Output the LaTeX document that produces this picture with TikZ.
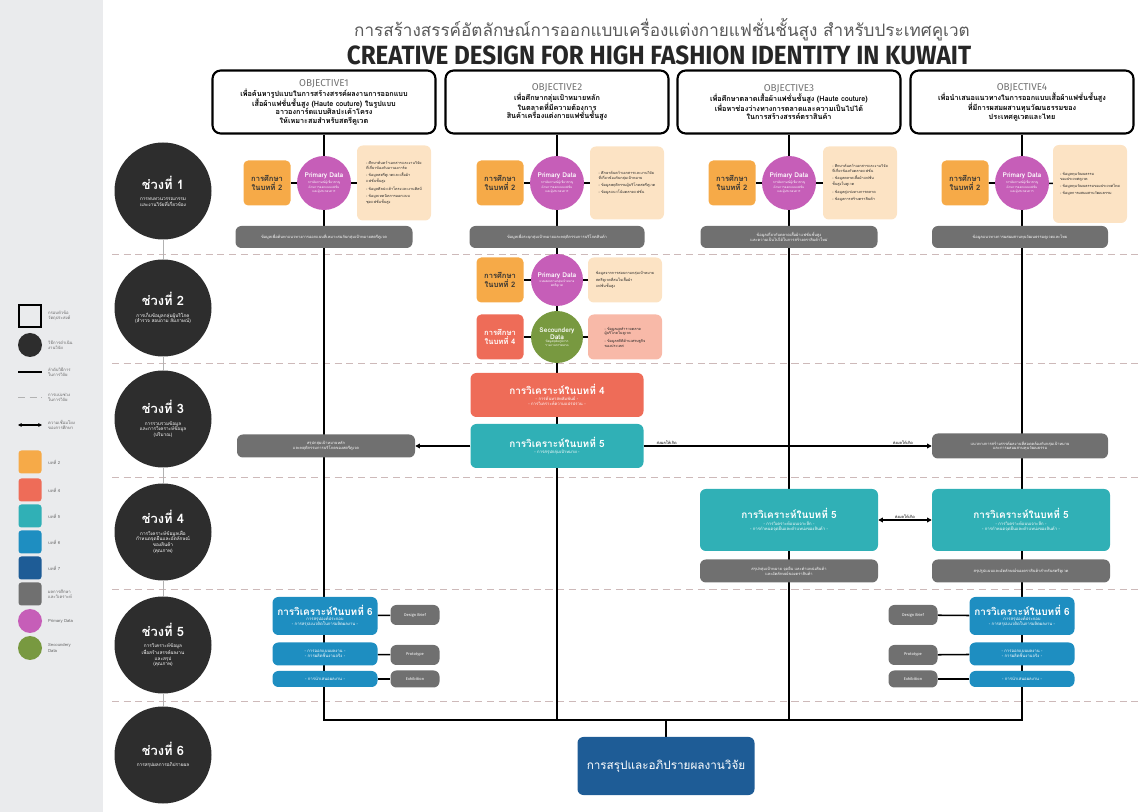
\documentclass[tikz,border=0pt]{standalone}
\usepackage{fontspec}
\setmainfont[Script=Thai]{Loma}
\newfontfamily\latinfont{Fira Sans}
\newfontfamily\headfont[FakeStretch=0.92]{Fira Sans}
\usetikzlibrary{positioning,arrows.meta,backgrounds}

\definecolor{panelgray}{RGB}{234,235,237}
\definecolor{phasegray}{RGB}{45,45,45}
\definecolor{ch2}{RGB}{246,170,72}
\definecolor{ch4}{RGB}{238,108,88}
\definecolor{ch5}{RGB}{48,176,182}
\definecolor{ch6}{RGB}{30,142,193}
\definecolor{ch7}{RGB}{30,92,150}
\definecolor{resgray}{RGB}{112,112,112}
\definecolor{primpink}{RGB}{198,94,184}
\definecolor{secgreen}{RGB}{120,153,64}
\definecolor{beige}{RGB}{252,227,196}
\definecolor{salmon}{RGB}{248,185,168}
\definecolor{sepline}{RGB}{205,185,185}
\newcommand*{\phtitle}[1]{{\fontsize{11}{12}\selectfont\bfseries #1}}
\newcommand*{\bxtitle}[1]{{\fontsize{8.5}{10}\selectfont\bfseries #1}}
\newcommand*{\dottitle}[1]{{\fontsize{5.6}{6.4}\selectfont\bfseries #1}}
\newcommand*{\objlabel}[1]{{\latinfont\mdseries\fontsize{8.5}{10}\selectfont\color{black!55}#1}}

\begin{document}
\begin{tikzpicture}[x=0.3mm,y=-0.3mm,
  wh/.style 2 args={minimum width=#1*0.3mm,minimum height=#2*0.3mm},
  objbox/.style={draw,line width=1.8pt,rounded corners=7pt,fill=white,wh={223}{63},
    align=center,inner sep=1pt,font=\fontsize{6.2}{7}\selectfont\bfseries},
  phase/.style={circle,fill=phasegray,minimum size=97*0.3mm,inner sep=0pt,text=white,
    align=center,font=\fontsize{4}{4.8}\selectfont},
  chapbox/.style={rounded corners=5pt,fill=#1,align=center,inner sep=1pt,text=white,
    font=\fontsize{3.6}{4.4}\selectfont},
  studybox/.style={rounded corners=4pt,fill=#1,wh={47}{45},align=center,inner sep=0pt,
    font=\fontsize{6.5}{7.6}\selectfont\bfseries,text=black!80},
  datadot/.style={circle,fill=#1,minimum size=54*0.3mm,inner sep=0pt,text=white,
    align=center,font=\fontsize{2.6}{3.1}\selectfont},
  notebox/.style={rounded corners=5pt,fill=#1,align=left,inner sep=2pt,text=black!85,
    font=\fontsize{3.2}{4.2}\selectfont},
  resbox/.style={rounded corners=5pt,fill=resgray,align=center,inner sep=1pt,text=white,
    font=\fontsize{3.4}{4.2}\selectfont},
  flow/.style={line width=2.2pt},
  link/.style={line width=1.3pt},
  sep/.style={draw=sepline,dash pattern=on 6pt off 4pt,line width=0.6pt},
  lgtext/.style={anchor=west,align=left,text=black!60,font=\fontsize{3.6}{4.3}\selectfont},
  lgchip/.style={rounded corners=2.5pt,fill=#1,wh={23}{23}},
  arr/.style={-{Triangle[length=4pt,width=4pt]},line width=0.9pt},
  note/.style={font=\fontsize{3.4}{4}\selectfont,inner sep=1pt}
]
\useasboundingbox (0,0) rectangle (1148,812);
% Legend strip on the left
\fill[panelgray] (0,0) rectangle (103,812);
\node[draw,line width=1.3pt,wh={22}{22}] (lgobj) at (30,316) {};
\node[lgtext] (ltobj) at (44,316) {กรอบหัวข้อ\\วัตถุประสงค์};
\node[circle,fill=phasegray,minimum size=24*0.3mm] (lgph) at (30,345) {};
\node[lgtext] (ltph) at (44,345) {วิธีการดำเนิน\\งานวิจัย};
\coordinate (lgl1) at (18,372); \coordinate (lgl2) at (42,372);
\draw[flow] (lgl1) -- (lgl2);
\node[lgtext] (ltl) at (44,372) {ลำดับวิธีการ\\ในการวิจัย};
\coordinate (lgd1) at (18,397); \coordinate (lgd2) at (42,397);
\draw[sep,draw=black!30] (lgd1) -- (lgd2);
\node[lgtext] (ltd) at (44,397) {การแบ่งช่วง\\ในการวิจัย};
\coordinate (lga1) at (18,425); \coordinate (lga2) at (42,425);
\draw[arr,{Triangle[length=3pt,width=3pt]}-{Triangle[length=3pt,width=3pt]}] (lga1) -- (lga2);
\node[lgtext] (lta) at (44,425) {ความเชื่อมโยง\\ของการศึกษา};
\foreach \col/\y/\txt [count=\k] in {ch2/462/บทที่ 2,ch4/490/บทที่ 4,ch5/516/บทที่ 5,
    ch6/542/บทที่ 6,ch7/568/บทที่ 7,resgray/594/{ผลการศึกษา\\และวิเคราะห์}}{
  \node[lgchip=\col] (lc\k) at (30,\y) {};
  \node[lgtext] (lt\k) at (44,\y) {\txt};
}
\node[circle,fill=primpink,minimum size=24*0.3mm] (lgpd) at (30,621) {};
\node[lgtext] (ltpd) at (44,621) {Primary Data};
\node[circle,fill=secgreen,minimum size=24*0.3mm] (lgsd) at (30,648) {};
\node[lgtext] (ltsd) at (44,648) {Secoundery\\Data};

% Heading
\node[text=black!65,font=\fontsize{14.6}{17}\selectfont] (thtitle) at (662,30)
  {การสร้างสรรค์อัตลักษณ์การออกแบบเครื่องแต่งกายแฟชั่นชั้นสูง สำหรับประเทศคูเวต};
\node[text=black!85,font=\headfont\bfseries\fontsize{22.5}{24}\selectfont] (entitle) at (659,55)
  {CREATIVE DESIGN FOR HIGH FASHION IDENTITY IN KUWAIT};

% Objectives
\node[objbox] (ob1) at (324,102) {\objlabel{OBJECTIVE1}\\
  เพื่อค้นหารูปแบบในการสร้างสรรค์ผลงานการออกแบบ\\เสื้อผ้าแฟชั่นชั้นสูง (Haute couture) ในรูปแบบ\\
  อาวองการ์ดแบบศิลปะเค้าโครง\\ให้เหมาะสมสำหรับสตรีคูเวต};
\node[objbox] (ob2) at (557,102) {\objlabel{OBJECTIVE2}\\
  เพื่อศึกษากลุ่มเป้าหมายหลัก\\ในตลาดที่มีความต้องการ\\สินค้าเครื่องแต่งกายแฟชั่นชั้นสูง};
\node[objbox] (ob3) at (789,102) {\objlabel{OBJECTIVE3}\\
  เพื่อศึกษาตลาดเสื้อผ้าแฟชั่นชั้นสูง (Haute couture)\\เพื่อหาช่องว่างทางการตลาดและความเป็นไปได้\\
  ในการสร้างสรรค์ตราสินค้า};
\node[objbox] (ob4) at (1022,102) {\objlabel{OBJECTIVE4}\\
  เพื่อนำเสนอแนวทางในการออกแบบเสื้อผ้าแฟชั่นชั้นสูง\\ที่มีการผสมผสานทุนวัฒนธรรมของ\\ประเทศคูเวตและไทย};

% Phase circles
\node[phase] (ph1) at (163,191) {\phtitle{ช่วงที่ 1}\\[5pt]การทบทวนวรรณกรรม\\และงานวิจัยที่เกี่ยวข้อง};
\node[phase] (ph2) at (163,308) {\phtitle{ช่วงที่ 2}\\[5pt]การเก็บข้อมูลกลุ่มผู้บริโภค\\(สำรวจ สอบถาม สัมภาษณ์)};
\node[phase] (ph3) at (163,419) {\phtitle{ช่วงที่ 3}\\[5pt]การรวบรวมข้อมูล\\และการวิเคราะห์ข้อมูล\\(ปริมาณ)};
\node[phase] (ph4) at (163,532) {\phtitle{ช่วงที่ 4}\\[5pt]การวิเคราะห์ข้อมูลเพื่อ\\กำหนดจุดยืนและอัตลักษณ์\\ของสินค้า\\(คุณภาพ)};
\node[phase] (ph5) at (163,645) {\phtitle{ช่วงที่ 5}\\[5pt]การวิเคราะห์ข้อมูล\\เพื่อสร้างสรรค์ผลงาน\\และสรุป\\(คุณภาพ)};
\node[phase] (ph6) at (163,755) {\phtitle{ช่วงที่ 6}\\[5pt]การสรุปผลการอภิปรายผล};

% Phase 1: literature study in every column
\node[notebox=beige,wh={74}{75}] (nt1) at (394,183) {- ศึกษาค้นคว้าเอกสารและงานวิจัย\\ที่เกี่ยวข้องกับอาวองการ์ด\\[2pt]
  - ข้อมูลสตรีคูเวตและเสื้อผ้า\\แฟชั่นชั้นสูง\\[2pt]- ข้อมูลศิลปะเค้าโครงและงานศิลป์\\[2pt]
  - ข้อมูลเทคนิคการออกแบบ\\ชุดแฟชั่นชั้นสูง};
\node[notebox=beige,wh={74}{73}] (nt2) at (627,183) {- ศึกษาค้นคว้าเอกสารและงานวิจัย\\ที่เกี่ยวข้องกับกลุ่มเป้าหมาย\\[2pt]
  - ข้อมูลพฤติกรรมผู้บริโภคสตรีคูเวต\\[2pt]- ข้อมูลแนวโน้มตลาดแฟชั่น};
\node[notebox=beige,wh={74}{73}] (nt3) at (860,183) {- ศึกษาค้นคว้าเอกสารและงานวิจัย\\ที่เกี่ยวข้องกับตลาดแฟชั่น\\[2pt]
  - ข้อมูลตลาดเสื้อผ้าแฟชั่น\\ชั้นสูงในคูเวต\\[2pt]- ข้อมูลคู่แข่งทางการตลาด\\[2pt]- ข้อมูลการสร้างตราสินค้า};
\node[notebox=beige,wh={74}{78}] (nt4) at (1090,184) {- ข้อมูลทุนวัฒนธรรม\\ของประเทศคูเวต\\[2pt]
  - ข้อมูลทุนวัฒนธรรมของประเทศไทย\\[2pt]- ข้อมูลการผสมผสานวัฒนธรรม};
\foreach \n/\c in {1/324,2/557,3/789,4/1022}{
  \node[studybox=ch2] (st\n) at (\c-57,183) {การศึกษา\\ในบทที่ 2};
  \node[datadot=primpink] (pd\n) at (\c,183) {\dottitle{Primary Data}\\
    การสัมภาษณ์ผู้เชี่ยวชาญ\\ด้านการออกแบบแฟชั่น\\และผู้ประกอบการ};
}
\node[resbox,wh={177}{22}] (rs1) at (324,237) {ข้อมูลเพื่อค้นหาแนวทางการออกแบบที่เหมาะสมกับกลุ่มเป้าหมายสตรีคูเวต};
\node[resbox,wh={175}{22}] (rs2) at (557,237) {ข้อมูลเพื่อระบุกลุ่มเป้าหมายและพฤติกรรมการบริโภคสินค้า};
\node[resbox,wh={177}{22}] (rs3) at (789,237) {ข้อมูลเกี่ยวกับตลาดเสื้อผ้าแฟชั่นชั้นสูง\\และความเป็นไปได้ในการสร้างตราสินค้าใหม่};
\node[resbox,wh={176}{22}] (rs4) at (1020,237) {ข้อมูลแนวทางการผสมผสานทุนวัฒนธรรมคูเวตและไทย};

% Phase 2: survey of consumers (objective 2 only)
\node[studybox=ch2,wh={47}{45}] (st5) at (500,280) {การศึกษา\\ในบทที่ 2};
\node[datadot=primpink,minimum size=52*0.3mm] (pd5) at (557,280) {\dottitle{Primary Data}\\
  แบบสอบถามกลุ่มเป้าหมาย\\สตรีคูเวต};
\node[notebox=beige,wh={74}{45}] (nt5) at (625,280) {ข้อมูลจากการสอบถามกลุ่มเป้าหมาย\\สตรีคูเวตที่สนใจเสื้อผ้า\\แฟชั่นชั้นสูง};
\node[studybox=ch4,wh={47}{45},text=white] (st6) at (500,337) {การศึกษา\\ในบทที่ 4};
\node[datadot=secgreen,minimum size=52*0.3mm] (sd6) at (557,337) {\dottitle{Secoundery}\\\dottitle{Data}\\
  ข้อมูลทุติยภูมิจาก\\รายงานการตลาด};
\node[notebox=salmon,wh={74}{45}] (nt6) at (625,337) {- ข้อมูลผลสำรวจตลาด\\ผู้บริโภคในคูเวต\\[2pt]- ข้อมูลสถิติด้านเศรษฐกิจ\\ของประเทศ};

% Phase 3: quantitative analysis
\node[chapbox=ch4,wh={173}{44}] (an4) at (557,395) {\bxtitle{การวิเคราะห์ในบทที่ 4}\\- การค้นหาสหสัมพันธ์ -\\- การวิเคราะห์ความแปรปรวน -};
\node[chapbox=ch5,wh={173}{44}] (an5) at (557,446) {\bxtitle{การวิเคราะห์ในบทที่ 5}\\- การสรุปกลุ่มเป้าหมาย -};
\node[resbox,wh={178}{23}] (rs5) at (326,446) {สรุปกลุ่มเป้าหมายหลัก\\และพฤติกรรมการบริโภคของสตรีคูเวต};
\node[resbox,wh={176}{25}] (rs6) at (1020,446) {แนวทางการสร้างสรรค์ผลงานที่สอดคล้องกับกลุ่มเป้าหมาย\\และการผสมผสานทุนวัฒนธรรม};

% Phase 4: qualitative analysis
\node[chapbox=ch5,wh={178}{62}] (an6) at (789,520) {\bxtitle{การวิเคราะห์ในบทที่ 5}\\[2pt]- การวิเคราะห์แบบเจาะลึก -\\- การกำหนดจุดยืนและตำแหน่งของสินค้า -};
\node[chapbox=ch5,wh={178}{62}] (an7) at (1021,520) {\bxtitle{การวิเคราะห์ในบทที่ 5}\\[2pt]- การวิเคราะห์แบบเจาะลึก -\\- การกำหนดจุดยืนและตำแหน่งของสินค้า -};
\node[resbox,wh={178}{23}] (rs7) at (789,571) {สรุปกลุ่มเป้าหมาย จุดยืน และตำแหน่งสินค้า\\และอัตลักษณ์ของตราสินค้า};
\node[resbox,wh={178}{23}] (rs8) at (1021,571) {สรุปรูปแบบและอัตลักษณ์ของตราสินค้าสำหรับสตรีคูเวต};

% Phase 5: design work, both sides
\foreach \s/\c/\g in {l/325/415,r/1022/913}{
  \node[chapbox=ch6,wh={105}{38}] (dz1\s) at (\c,616) {\bxtitle{การวิเคราะห์ในบทที่ 6}\\การสรุปองค์ประกอบ\\- การสรุปแนวคิดในการผลิตผลงาน -};
  \node[chapbox=ch6,wh={105}{23}] (dz2\s) at (\c,654) {- การออกแบบผลงาน -\\- การผลิตชิ้นงานจริง -};
  \node[chapbox=ch6,wh={105}{16}] (dz3\s) at (\c,679) {- การนำเสนอผลงาน -};
  \node[resbox,wh={49}{20},font=\latinfont\fontsize{3.4}{4}\selectfont] (db\s) at (\g,615) {Design Brief};
  \node[resbox,wh={49}{20},font=\latinfont\fontsize{3.4}{4}\selectfont] (pt\s) at (\g,655) {Prototype};
  \node[resbox,wh={49}{17},font=\latinfont\fontsize{3.4}{4}\selectfont] (ex\s) at (\g,679) {Exhibition};
}

% Phase 6: conclusion
\node[chapbox=ch7,wh={177}{58},font=\fontsize{10}{11}\selectfont] (fin) at (666,766) {การสรุปและอภิปรายผลงานวิจัย};
\coordinate (j1) at (324,720);
\coordinate (j2) at (557,720);
\coordinate (j3) at (789,720);
\coordinate (j4) at (1022,720);
\coordinate (jm) at (666,720);

% Connectors under the boxes
\begin{scope}[on background layer]
  \foreach \y in {254,363,477,589,701}
    \draw[sep] (112,\y) -- (1142,\y);
  \draw[gray!60,line width=0.5pt] (ph1) -- (ph2) -- (ph3) -- (ph4) -- (ph5) -- (ph6);
  \draw[flow] (ob1) -- (j1) -- (j4) -- (ob4);
  \draw[flow] (ob2) -- (j2);
  \draw[flow] (ob3) -- (j3);
  \draw[flow] (jm) -- (fin);
  \foreach \n in {1,...,5} \draw[link] (st\n) -- (pd\n) -- (nt\n);
  \draw[link] (st6) -- (sd6) -- (nt6);
  \draw[link] (dz1l) -- (dbl); \draw[link] (dz2l) -- (ptl); \draw[link] (dz3l) -- (exl);
  \draw[link] (dz1r) -- (dbr); \draw[link] (dz2r) -- (ptr); \draw[link] (dz3r) -- (exr);
\end{scope}
\draw[arr] (an5) -- (rs5);
\draw[arr] (an5) -- node[pos=0.08,above,note] (lb1) {ส่งผลให้เกิด}
  node[pos=0.9,above,note] (lb2) {ส่งผลให้เกิด} (rs6);
\draw[arr,{Triangle[length=4pt,width=4pt]}-{Triangle[length=4pt,width=4pt]}] (an6) --
  node[above,note] (lb3) {ส่งผลให้เกิด} (an7);
\end{tikzpicture}
\end{document}
